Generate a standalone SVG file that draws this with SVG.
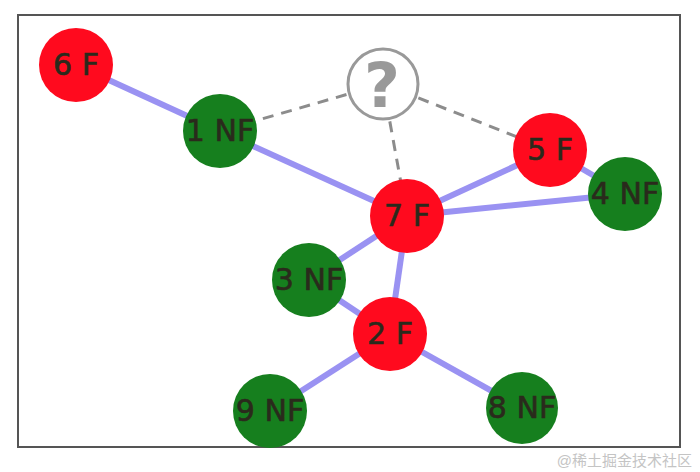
<svg xmlns="http://www.w3.org/2000/svg" width="700" height="472" viewBox="0 0 700 472">
<style>
.f{fill:#ff0a1e}
.nf{fill:#167f1e}
.lbl{font-family:"DejaVu Sans",sans-serif;font-size:30px;fill:#2a2a1c;stroke:#2a2a1c;stroke-width:0.6;text-anchor:middle}
.e{stroke:#9a92f2;stroke-width:6;fill:none}
.d{stroke:#8c8c8c;stroke-width:3;stroke-dasharray:11 8;fill:none}
</style>
<rect width="700" height="472" fill="#ffffff"/>
<rect x="18" y="15" width="662" height="432" fill="none" stroke="#555" stroke-width="2"/>
<g id="connectors">
<line class="e" x1="76" y1="65" x2="220" y2="131"/>
<line class="e" x1="220" y1="131" x2="407" y2="216"/>
<line class="e" x1="407" y1="216" x2="550" y2="150"/>
<line class="e" x1="407" y1="216" x2="625" y2="194"/>
<line class="e" x1="550" y1="150" x2="625" y2="194"/>
<line class="e" x1="407" y1="216" x2="309" y2="280"/>
<line class="e" x1="407" y1="216" x2="390" y2="334"/>
<line class="e" x1="309" y1="280" x2="390" y2="334"/>
<line class="e" x1="390" y1="334" x2="270" y2="411"/>
<line class="e" x1="390" y1="334" x2="522" y2="408"/>
<line class="d" x1="383" y1="84" x2="220" y2="131"/>
<line class="d" x1="383" y1="84" x2="407" y2="216"/>
<line class="d" x1="383" y1="84" x2="550" y2="150"/>
</g>
<g id="q"><circle cx="383" cy="84" r="35" fill="#fff" stroke="#999" stroke-width="3"/><text x="382" y="107" font-family="DejaVu Sans,sans-serif" font-weight="bold" font-size="62" fill="#999" text-anchor="middle">?</text></g>
<g id="n6"><circle class="f" cx="76" cy="65" r="37"/><text class="lbl" x="76" y="75">6 F</text></g>
<g id="n1"><circle class="nf" cx="220" cy="131" r="37"/><text class="lbl" x="220" y="141">1 NF</text></g>
<g id="n5"><circle class="f" cx="550" cy="150" r="37"/><text class="lbl" x="550" y="160">5 F</text></g>
<g id="n4"><circle class="nf" cx="625" cy="194" r="37"/><text class="lbl" x="625" y="204">4 NF</text></g>
<g id="n7"><circle class="f" cx="407" cy="216" r="37"/><text class="lbl" x="407" y="226">7 F</text></g>
<g id="n3"><circle class="nf" cx="309" cy="280" r="37"/><text class="lbl" x="309" y="290">3 NF</text></g>
<g id="n2"><circle class="f" cx="390" cy="334" r="37"/><text class="lbl" x="390" y="344">2 F</text></g>
<g id="n9"><circle class="nf" cx="270" cy="411" r="37"/><text class="lbl" x="270" y="421">9 NF</text></g>
<g id="n8"><circle class="nf" cx="522" cy="408" r="36"/><text class="lbl" x="522" y="418">8 NF</text></g>
<text x="692" y="466" font-family="'Liberation Sans','Noto Sans CJK SC',sans-serif" font-size="15" fill="#c4c4c4" text-anchor="end">@稀土掘金技术社区</text>
</svg>
